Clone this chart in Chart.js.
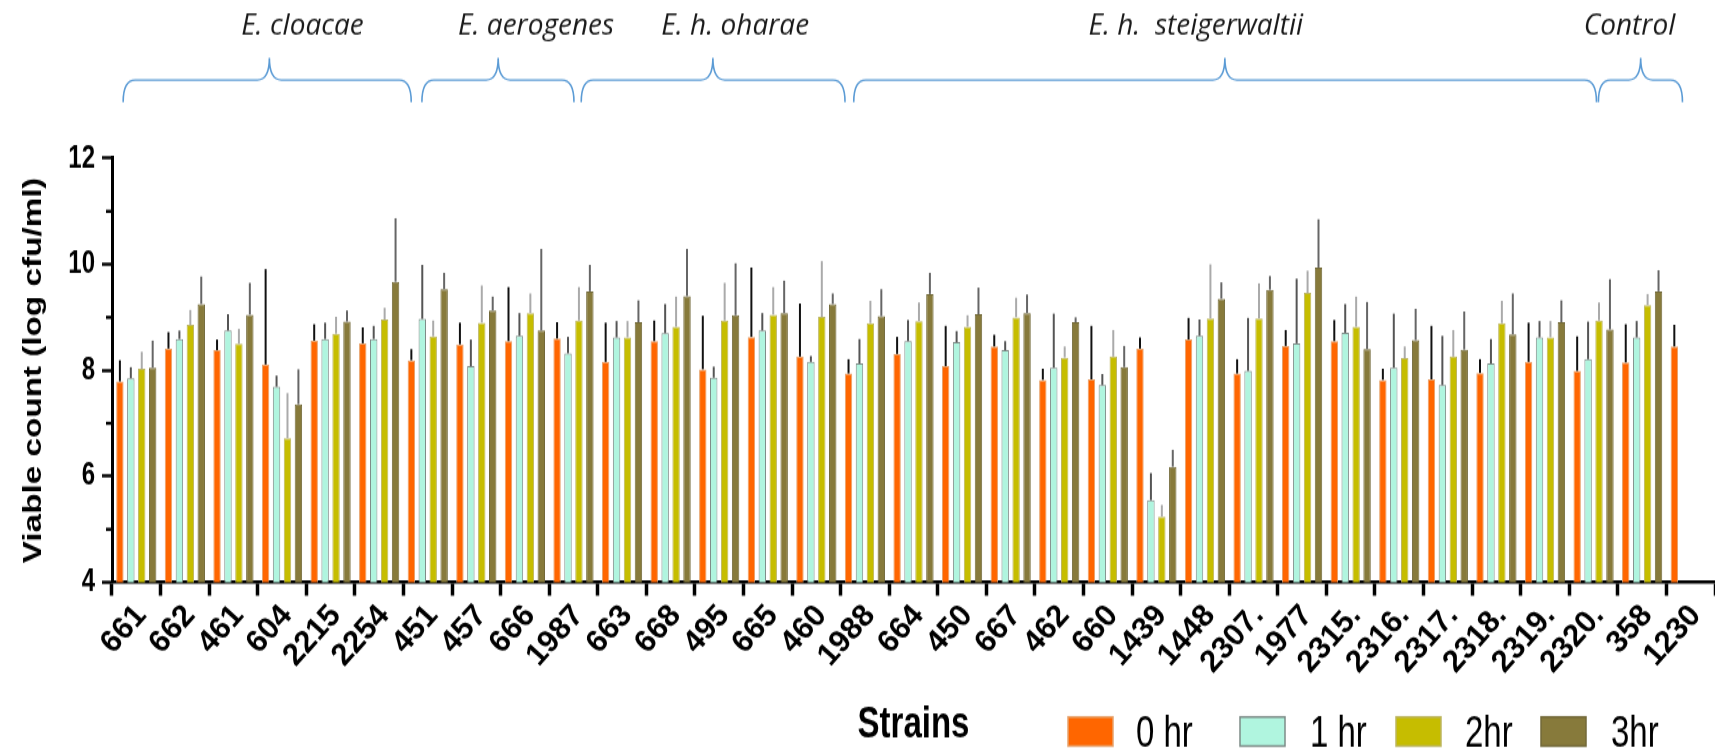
<!DOCTYPE html>
<html><head><meta charset="utf-8">
<script src="https://cdn.jsdelivr.net/npm/chart.js@4.4.0/dist/chart.umd.min.js"></script>
<style>
html,body{margin:0;padding:0;background:#fff;}
#wrap{position:relative;width:1715px;height:748px;overflow:hidden;}
#c{transform-origin:0 0;}
</style>
</head><body><div id="wrap"><canvas id="c" width="1715" height="562"></canvas></div>
<script>
const categories = ['661','662','461','604','2215','2254','451','457','666','1987','663','668','495','665','460','1988','664','450','667','462','660','1439','1448','2307.','1977','2315.','2316.','2317.','2318.','2319.','2320.','358','1230'];
const seriesNames = ['0 hr','1 hr','2hr','3hr'];
const hr0 = [7.79,8.41,8.38,8.11,8.56,8.51,8.19,8.49,8.55,8.60,8.16,8.55,8.02,8.63,8.26,7.94,8.31,8.08,8.45,7.82,7.83,8.41,8.58,7.94,8.46,8.55,7.82,7.83,7.95,8.16,7.99,8.15,8.45];
const hr1 = [7.85,8.59,8.75,7.69,8.59,8.59,8.97,8.08,8.65,8.32,8.62,8.70,7.86,8.75,8.16,8.13,8.55,8.53,8.38,8.05,7.72,5.55,8.65,7.99,8.51,8.71,8.05,7.72,8.13,8.62,8.21,8.62,null];
const hr2 = [8.03,8.86,8.50,6.72,8.69,8.96,8.64,8.90,9.08,8.94,8.62,8.82,8.94,9.05,9.01,8.89,8.93,8.82,9.00,8.24,8.26,5.24,8.98,8.98,9.46,8.82,8.23,8.26,8.89,8.62,8.94,9.23,null];
const hr3 = [8.05,9.25,9.05,7.36,8.92,9.67,9.53,9.13,8.75,9.49,8.91,9.40,9.04,9.08,9.25,9.02,9.44,9.06,9.08,8.91,8.06,6.18,9.35,9.52,9.94,8.40,8.57,8.39,8.68,8.91,8.77,9.49,null];
const sd0 = [0.40,0.31,0.20,1.80,0.31,0.30,0.21,0.41,1.02,0.31,0.74,0.39,1.01,1.31,1.00,0.27,0.32,0.76,0.22,0.21,1.01,0.21,0.41,0.27,0.30,0.40,0.21,1.01,0.26,0.74,0.65,0.72,0.41];
const sd1 = [0.21,0.16,0.31,0.21,0.31,0.25,1.02,0.50,0.43,0.31,0.31,0.55,0.21,0.33,0.11,0.46,0.40,0.21,0.17,1.02,0.21,0.51,0.31,1.00,1.22,0.54,1.02,0.93,0.46,0.31,0.71,0.31,null];
const sd2 = [0.32,0.28,0.28,0.85,0.32,0.22,0.30,0.70,0.37,0.63,0.31,0.57,0.71,0.52,1.05,0.42,0.35,0.22,0.37,0.21,0.50,0.22,1.02,0.66,0.42,0.57,0.22,0.50,0.42,0.31,0.34,0.21,null];
const sd3 = [0.51,0.52,0.60,0.66,0.21,1.20,0.31,0.26,1.54,0.50,0.41,0.89,0.98,0.61,0.20,0.51,0.40,0.50,0.35,0.09,0.40,0.32,0.31,0.26,0.91,0.89,0.59,0.72,0.77,0.41,0.95,0.40,null];
const yTicks = [4,6,8,10,12];
const yMinorTicks = [5,7,9,11];
// species groups: label, brace start/end/tip and label centre in category-index units
const groupNames = ['E. cloacae','E. aerogenes','E. h. oharae','E. h.  steigerwaltii','Control'];
const groupStart = [-0.27, 5.88, 9.16, 14.77, 30.10];
const groupEnd   = [5.66, 9.01, 14.59, 30.06, 31.83];
const groupTip   = [2.74, 7.45, 11.87, 22.41, 30.97];
const groupLabelAt = [3.42, 8.23, 12.33, 21.81, 30.74];

const fills = ['#FF6600','#B0F5DF','#C6BD00','#877A3B'];
const borders = ['#E8A36C','#7E8C88','#BDB660','#736A3A'];
const errColors = ['#111111','#555555','#AAAAAA','#666666'];
const values = [hr0,hr1,hr2,hr3];
const sds = [sd0,sd1,sd2,sd3];
const FONT = '"Liberation Sans", Arial, sans-serif';

// the original figure is vertically stretched; reproduce by stretching the canvas
const CANVAS_H = 562, OUT_H = 748, S = OUT_H / CANVAS_H;
document.getElementById('c').style.transform = 'scaleY(' + S + ')';

const extras = {
  id:'extras',
  afterDatasetsDraw(chart){
    const ctx = chart.ctx, y = chart.scales.y;
    ctx.save();
    values.forEach((arr, i) => {
      const meta = chart.getDatasetMeta(i);
      ctx.strokeStyle = errColors[i]; ctx.lineWidth = 2;
      meta.data.forEach((el, j) => {
        if (arr[j] == null || sds[i][j] == null) return;
        const top = y.getPixelForValue(arr[j] + sds[i][j]);
        ctx.beginPath(); ctx.moveTo(el.x, el.y); ctx.lineTo(el.x, top); ctx.stroke();
      });
    });
    ctx.restore();
  },
  afterDraw(chart){
    const ctx = chart.ctx, x = chart.scales.x, y = chart.scales.y;
    ctx.save();
    // minor y ticks
    ctx.strokeStyle = '#000'; ctx.lineWidth = 2.4;
    yMinorTicks.forEach(v => {
      const py = y.getPixelForValue(v);
      ctx.beginPath(); ctx.moveTo(y.right - 6, py); ctx.lineTo(y.right, py); ctx.stroke();
    });
    // legend (inside the stretched canvas)
    const boxX = [1068, 1240, 1396, 1541];
    const textX = [1136, 1310, 1465, 1611];
    const bTop = 717 / S, bH = 29 / S, tY = 734 / S;
    ctx.textAlign = 'left'; ctx.textBaseline = 'middle';
    seriesNames.forEach((n, i) => {
      ctx.fillStyle = fills[i];
      ctx.fillRect(boxX[i], bTop, 45, bH);
      ctx.strokeStyle = borders[i]; ctx.lineWidth = 1.5;
      ctx.strokeRect(boxX[i], bTop, 45, bH);
      ctx.fillStyle = '#000';
      ctx.font = '33px ' + FONT;
      ctx.fillText(n, textX[i], tY);
    });
    ctx.restore();

    // un-stretched drawing (output pixel space): category labels, braces, group labels
    ctx.save();
    ctx.scale(1, 1 / S);
    const axisBottom = x.top * S;
    ctx.fillStyle = '#000';
    ctx.font = 'bold 31px ' + FONT;
    ctx.textAlign = 'right'; ctx.textBaseline = 'middle';
    categories.forEach((c, i) => {
      const px = x.getPixelForValue(i);
      ctx.save();
      ctx.translate(px + 5, axisBottom + 28);
      ctx.rotate(-48 * Math.PI / 180);
      ctx.fillText(c, 0, 0);
      ctx.restore();
    });
    const yTip = 58, yLine = 80, yEnd = 102, r = 12;
    ctx.strokeStyle = '#5B9BD5'; ctx.lineWidth = 1.6;
    groupNames.forEach((g, k) => {
      const a = x.getPixelForValue(groupStart[k]);
      const b = x.getPixelForValue(groupEnd[k]);
      const t = x.getPixelForValue(groupTip[k]);
      ctx.beginPath();
      ctx.moveTo(a, yEnd);
      ctx.quadraticCurveTo(a, yLine, a + r, yLine);
      ctx.lineTo(t - r, yLine);
      ctx.quadraticCurveTo(t, yLine, t, yTip);
      ctx.quadraticCurveTo(t, yLine, t + r, yLine);
      ctx.lineTo(b - r, yLine);
      ctx.quadraticCurveTo(b, yLine, b, yEnd);
      ctx.stroke();
      ctx.fillStyle = '#1a1a1a';
      ctx.font = 'italic 28px "Open Sans", sans-serif';
      ctx.textAlign = 'center'; ctx.textBaseline = 'middle';
      ctx.fillText(g, x.getPixelForValue(groupLabelAt[k]), 27);
    });
    ctx.restore();
  }
};

new Chart(document.getElementById('c'), {
  type:'bar',
  data:{
    labels: categories,
    datasets: values.map((arr, i) => ({
      label: seriesNames[i], data: arr,
      backgroundColor: fills[i], borderColor: borders[i], borderWidth: 1,
      barPercentage: 0.68, categoryPercentage: 0.9
    }))
  },
  options:{
    responsive:false, animation:false,
    layout:{padding:{top:158.3 / S, right:-5, bottom:0, left:0}},
    plugins:{legend:{display:false}, tooltip:{enabled:false}},
    scales:{
      x:{
        offset:true,
        grid:{display:true, drawOnChartArea:false, drawTicks:true, tickLength:10, tickWidth:3.5, tickColor:'#000'},
        border:{display:true, width:2.4, color:'#000'},
        ticks:{display:false, autoSkip:false},
        title:{display:true, text:'Strains', color:'#000', padding:{top:0, bottom:1},
               font:{family:FONT, size:33, weight:'bold', lineHeight:1}},
        afterFit(s){ s.height = CANVAS_H - 582.3 / S; s.paddingLeft = 0; s.paddingRight = 0; }
      },
      y:{
        min:4, max:12,
        afterBuildTicks(s){ s.ticks = yTicks.map(v => ({value:v})); },
        grid:{display:true, drawOnChartArea:false, drawTicks:true, tickLength:10, tickWidth:2.4, tickColor:'#000'},
        border:{display:true, width:3, color:'#000'},
        ticks:{color:'#000', padding:7, font:{family:FONT, size:24, weight:'bold'}},
        title:{display:true, text:'Viable count (log cfu/ml)', color:'#000', padding:{top:22, bottom:0},
               font:{family:FONT, size:25, weight:'bold', lineHeight:1}},
        afterFit(s){ s.width = 112; }
      }
    }
  },
  plugins:[extras]
});
</script></body></html>
